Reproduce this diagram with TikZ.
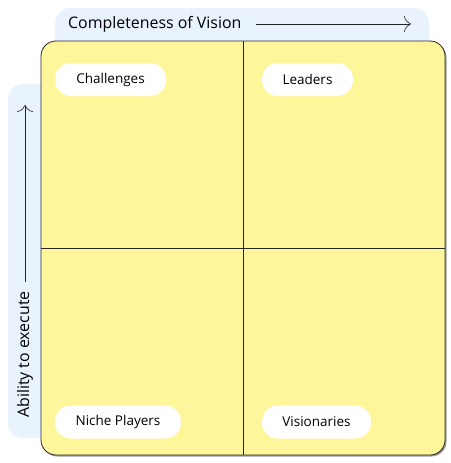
\documentclass[tikz,border=0pt]{standalone}
\usepackage{fontspec}
\setmainfont{Open Sans}
\usetikzlibrary{arrows.meta}

\definecolor{quadyellow}{HTML}{FFF69B}
\definecolor{axisblue}{HTML}{E8F3FD}

\begin{document}
\begin{tikzpicture}[
  x=1pt, y=-1pt,
  axisbox/.style={fill=axisblue, rounded corners=15pt},
  quadline/.style={line width=0.8pt, black!85},
  axisarrow/.style={line width=0.6pt, black!85, -{Computer Modern Rightarrow[length=7pt,width=16pt]}},
  pill/.style={fill=white, rounded corners=16pt, minimum height=33pt, inner sep=0pt, font=\fontsize{13.5}{15}\selectfont},
  axislabel/.style={font=\fontsize{15.9}{18}\selectfont, inner sep=0pt}
  ]
\useasboundingbox (0,0) rectangle (450,463);

% axis backgrounds
\fill[axisbox] (55,8) rectangle (429,60);
\fill[axisbox] (8,84) rectangle (60,438);

% quadrant board (with a thin shadow)
\fill[black!40, rounded corners=15pt] (42.5,42.5) rectangle (446.5,456.5);
\draw[quadline, fill=quadyellow, rounded corners=15pt] (41,41) rectangle (445,455);
\draw[quadline] (243,41) -- (243,455);
\draw[quadline] (41,248) -- (445,248);

% axes
\node[axislabel, anchor=west] (vision) at (68,24) {Completeness of Vision};
\coordinate (visionend) at (411,24);
\draw[axisarrow] (vision.east) ++(14,0) -- (visionend);

\node[axislabel, rotate=90, anchor=west] (execute) at (25,418) {Ability to execute};
\coordinate (executeend) at (25,105);
\draw[axisarrow] (execute.east) ++(0,-9) -- (executeend);

% quadrant names
\node[pill, minimum width=111pt] (challenges) at (110.5,79.5) {Challenges};
\node[pill, minimum width=91pt] (leaders) at (307.5,79.5) {Leaders};
\node[pill, minimum width=126pt] (niche) at (118,422) {Niche Players};
\node[pill, minimum width=109pt] (visionaries) at (316.5,422) {Visionaries};
\end{tikzpicture}
\end{document}
